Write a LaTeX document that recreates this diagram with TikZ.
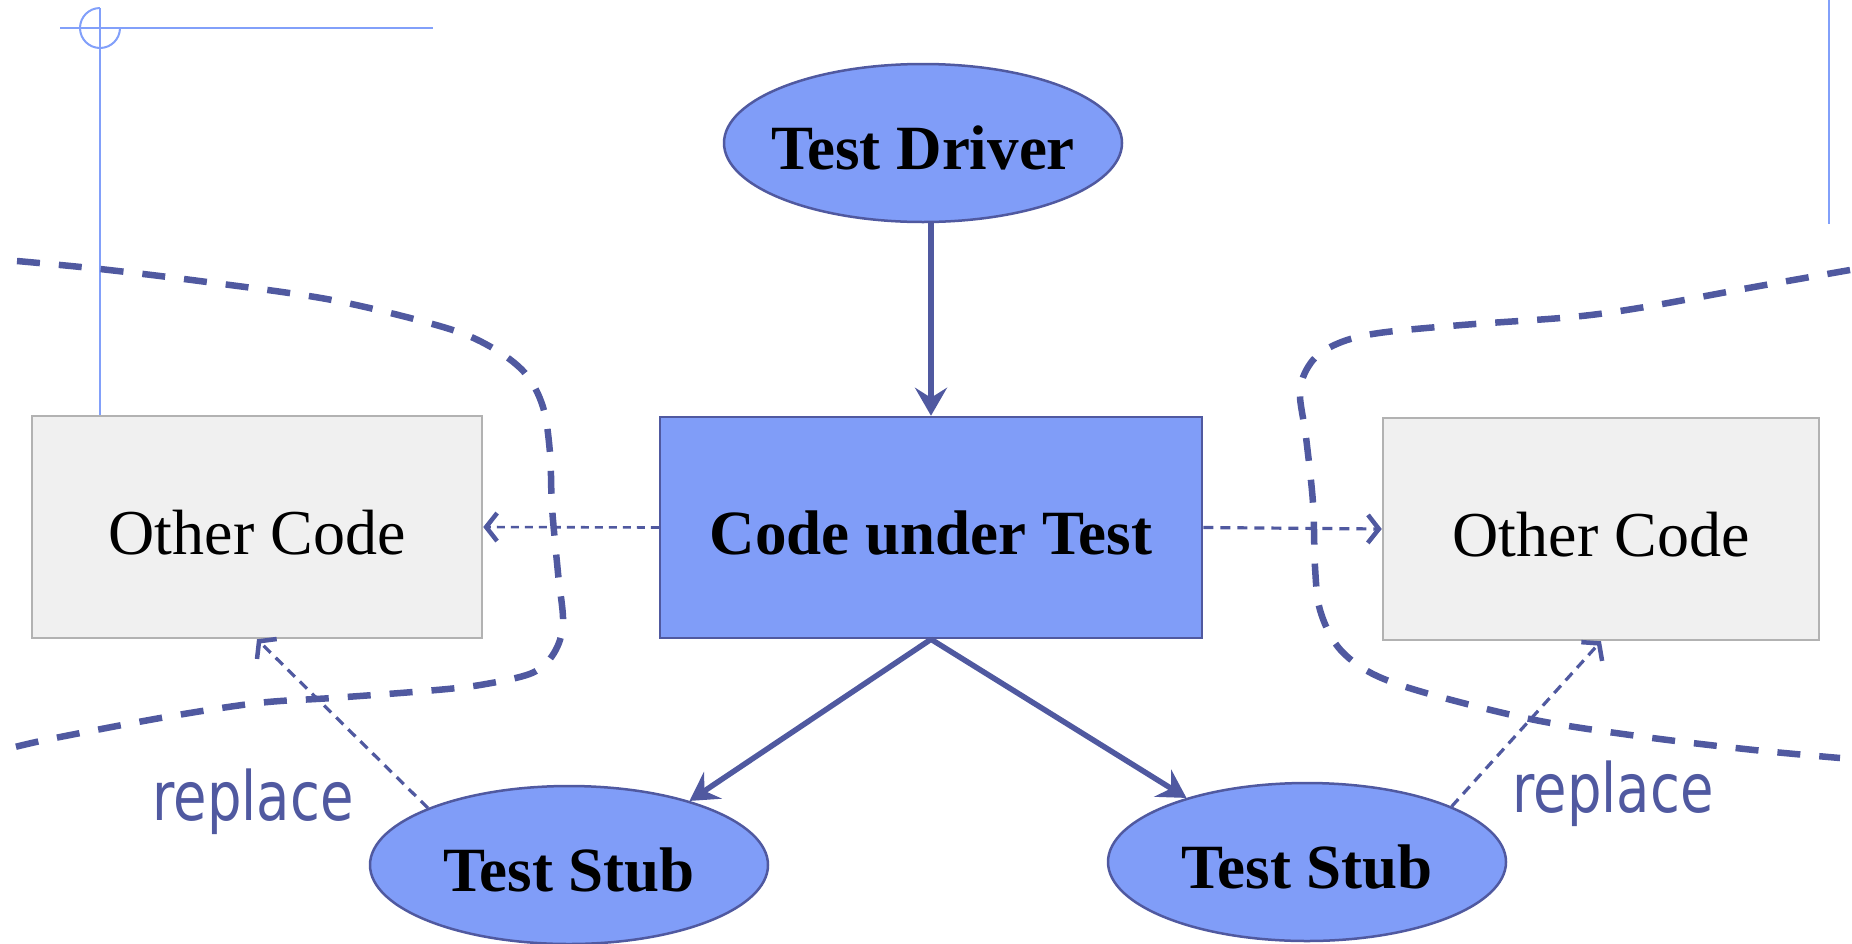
\documentclass[tikz,border=0pt]{standalone}
\usepackage{fontspec}
\setmainfont{Liberation Serif}
\newfontfamily\repfont{DejaVu Sans}
\usetikzlibrary{arrows.meta,shapes.geometric}
\definecolor{fillblue}{RGB}{128,157,248}
\definecolor{darkline}{RGB}{80,89,160}
\definecolor{guide}{RGB}{130,160,250}
\definecolor{boxgray}{RGB}{240,240,240}
\definecolor{boxline}{RGB}{178,178,178}
\begin{document}
\begin{tikzpicture}[x=1pt,y=-1pt,
  ell/.style={ellipse, draw=darkline, line width=2.5pt, fill=fillblue,
    minimum width=398pt, minimum height=158pt, inner sep=0pt,
    text height=53pt, text depth=0pt,
    font=\fontsize{63}{70}\selectfont\bfseries},
  cut/.style={rectangle, draw=darkline, line width=2.5pt, fill=fillblue,
    inner sep=0pt, text height=54pt, text depth=0pt,
    font=\fontsize{63}{70}\selectfont\bfseries},
  other/.style={rectangle, draw=boxline, line width=2.5pt, fill=boxgray,
    inner sep=0pt, text height=55pt, text depth=0pt,
    font=\fontsize{64}{70}\selectfont},
  solidarrow/.style={draw=darkline, line width=5.5pt,
    -{Stealth[length=28pt,width=32pt,inset=10pt]}},
  dasharrow/.style={draw=darkline, line width=3.2pt, dash pattern=on 10pt off 7pt,
    -{Straight Barb[length=11pt,width=28pt,line width=4.5pt]}},
  boundary/.style={draw=darkline, line width=6.5pt, dash pattern=on 23pt off 19pt},
  guideline/.style={draw=guide, line width=2pt},
  replabel/.style={text=darkline, inner sep=0pt}
]
\useasboundingbox (0,0) rectangle (1852,943);

% guide lines
\draw[guideline] (60,28) -- (433,28);
\draw[guideline] (100,8) -- (100,416);
\draw[guideline] (100,8) arc[start angle=270, end angle=0, radius=20];
\draw[guideline] (1829,0) -- (1829,224);

% nodes
\node[ell] (driver) at (923,143) {\makebox[0pt]{Test Driver}};
\node[cut, minimum width=542pt, minimum height=221pt] (code) at (931,527.5) {Code under Test};
\node[other, minimum width=450pt, minimum height=222pt] (otherL) at (257,527) {Other Code};
\node[other, minimum width=436pt, minimum height=222pt] (otherR) at (1601,529) {Other Code};
\node[ell] (stubL) at (569,865) {\makebox[0pt]{Test Stub}};
\node[ell] (stubR) at (1307,862) {\makebox[0pt]{Test Stub}};

% boundaries
\draw[boundary] plot[smooth, tension=0.55] coordinates {
  (17,261) (100,269) (207,282) (332,300) (443,327) (491,347) (525,373)
  (543,407) (550,453) (552,507) (558,573) (563,623) (554,653) (532,673)
  (480,685) (425,691) (332,698) (258,703) (166,717) (55,738) (15,747)};
\draw[boundary] plot[smooth, tension=0.55] coordinates {
  (1850,270) (1754,287) (1645,307) (1572,317) (1462,325) (1379,333)
  (1339,343) (1313,360) (1300,390) (1306,437) (1313,503) (1315,567)
  (1320,610) (1338,647) (1371,673) (1426,693) (1535,720) (1645,737)
  (1754,750) (1840,758)};

% connectors
\draw[solidarrow] (driver.south -| code.north) -- (code.north);
\draw[solidarrow] (code.south) -- (stubL.28);
\draw[solidarrow] (code.south) -- (stubR.152);
\draw[dasharrow, dash pattern=on 8pt off 6pt, line width=2.6pt] (code.west) -- (otherL.east);
\draw[dasharrow] (code.east) -- (otherR.west);
\draw[dasharrow] (stubL.158) -- (otherL.south);
\draw[dasharrow] (stubR.21) -- (otherR.south);

% labels
\node[replabel] (repL) at (253,802) {\scalebox{0.8}[1]{\repfont\fontsize{68}{80}\selectfont replace}};
\node[replabel] (repR) at (1613,794) {\scalebox{0.8}[1]{\repfont\fontsize{68}{80}\selectfont replace}};
\end{tikzpicture}
\end{document}
